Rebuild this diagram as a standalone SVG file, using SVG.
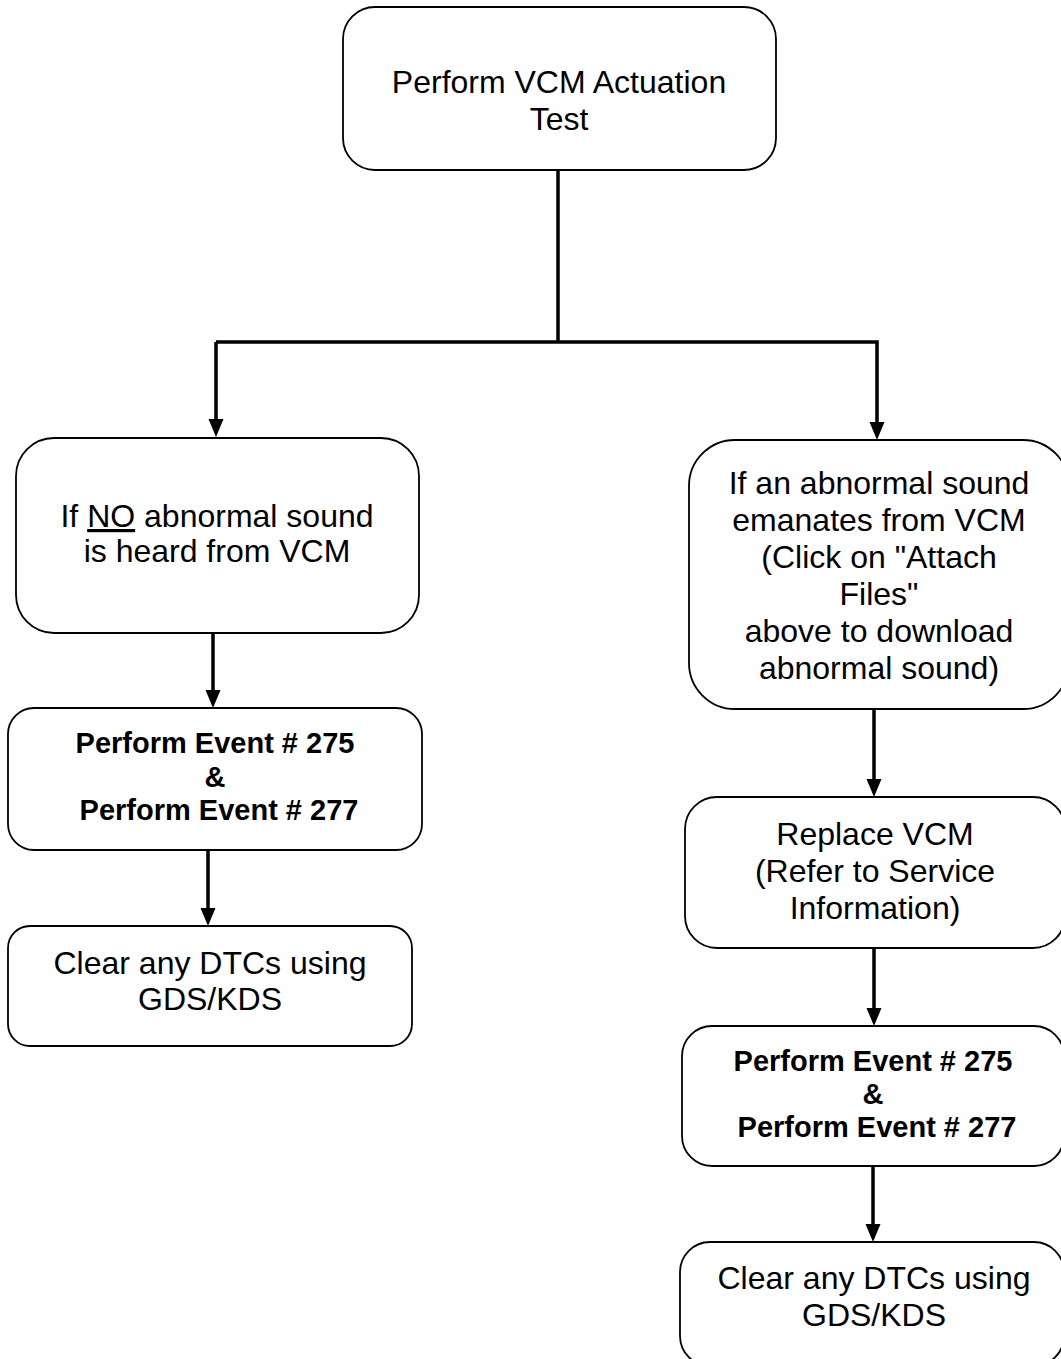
<svg xmlns="http://www.w3.org/2000/svg" width="1061" height="1359" viewBox="0 0 1061 1359">
<style>
.box{fill:#fff;stroke:#000;stroke-width:1.8}
.t{font-family:"Liberation Sans",Arial,sans-serif;font-size:32px;text-anchor:middle;fill:#000}
.b{font-family:"Liberation Sans",Arial,sans-serif;font-size:29px;font-weight:bold;text-anchor:middle;fill:#000}
.c{fill:none;stroke:#000;stroke-width:3.5}
</style>
<defs>
<marker id="ah" markerUnits="userSpaceOnUse" markerWidth="18" markerHeight="16" viewBox="0 0 18 16" refX="9" refY="8" orient="auto">
<path d="M0,0.5 L18,8 L0,15.5 z" fill="#000"/>
</marker>
</defs>
<rect width="1061" height="1359" fill="#fff"/>
<g id="connectors">
<polyline class="c" points="558,170 558,342"/>
<polyline class="c" points="216,342 877,342 877,431" marker-end="url(#ah)"/>
<line class="c" x1="216" y1="342" x2="216" y2="428" marker-end="url(#ah)"/>
<line class="c" x1="213" y1="633" x2="213" y2="699" marker-end="url(#ah)"/>
<line class="c" x1="208" y1="850" x2="208" y2="917" marker-end="url(#ah)"/>
<line class="c" x1="874" y1="709" x2="874" y2="788" marker-end="url(#ah)"/>
<line class="c" x1="874" y1="948" x2="874" y2="1017" marker-end="url(#ah)"/>
<line class="c" x1="873" y1="1166" x2="873" y2="1233" marker-end="url(#ah)"/>
</g>
<g id="start">
<rect class="box" x="343" y="7" width="433" height="163" rx="32"/>
<text class="t" x="559" y="93">Perform VCM Actuation</text>
<text class="t" x="559" y="130">Test</text>
</g>
<g id="no-sound">
<rect class="box" x="16" y="438" width="403" height="195" rx="38"/>
<text class="t" x="217" y="527">If <tspan text-decoration="underline">NO</tspan> abnormal sound</text>
<text class="t" x="217" y="562">is heard from VCM</text>
</g>
<g id="left-events">
<rect class="box" x="8" y="708" width="414" height="142" rx="26"/>
<text class="b" x="215" y="753">Perform Event # 275</text>
<text class="b" x="215" y="787">&amp;</text>
<text class="b" x="219" y="820">Perform Event # 277</text>
</g>
<g id="left-clear">
<rect class="box" x="8" y="926" width="404" height="120" rx="22"/>
<text class="t" x="210" y="974">Clear any DTCs using</text>
<text class="t" x="210" y="1010">GDS/KDS</text>
</g>
<g id="abnormal-sound">
<rect class="box" x="689" y="440" width="380" height="269" rx="46"/>
<text class="t" x="879" y="494">If an abnormal sound</text>
<text class="t" x="879" y="531">emanates from VCM</text>
<text class="t" x="879" y="568">(Click on "Attach</text>
<text class="t" x="879" y="605">Files"</text>
<text class="t" x="879" y="642">above to download</text>
<text class="t" x="879" y="679">abnormal sound)</text>
</g>
<g id="replace-vcm">
<rect class="box" x="685" y="797" width="380" height="151" rx="32"/>
<text class="t" x="875" y="845">Replace VCM</text>
<text class="t" x="875" y="882">(Refer to Service</text>
<text class="t" x="875" y="919">Information)</text>
</g>
<g id="right-events">
<rect class="box" x="682" y="1026" width="382" height="140" rx="30"/>
<text class="b" x="873" y="1071">Perform Event # 275</text>
<text class="b" x="873" y="1104">&amp;</text>
<text class="b" x="877" y="1137">Perform Event # 277</text>
</g>
<g id="right-clear">
<rect class="box" x="680" y="1242" width="384" height="124" rx="30"/>
<text class="t" x="874" y="1289">Clear any DTCs using</text>
<text class="t" x="874" y="1326">GDS/KDS</text>
</g>
</svg>
